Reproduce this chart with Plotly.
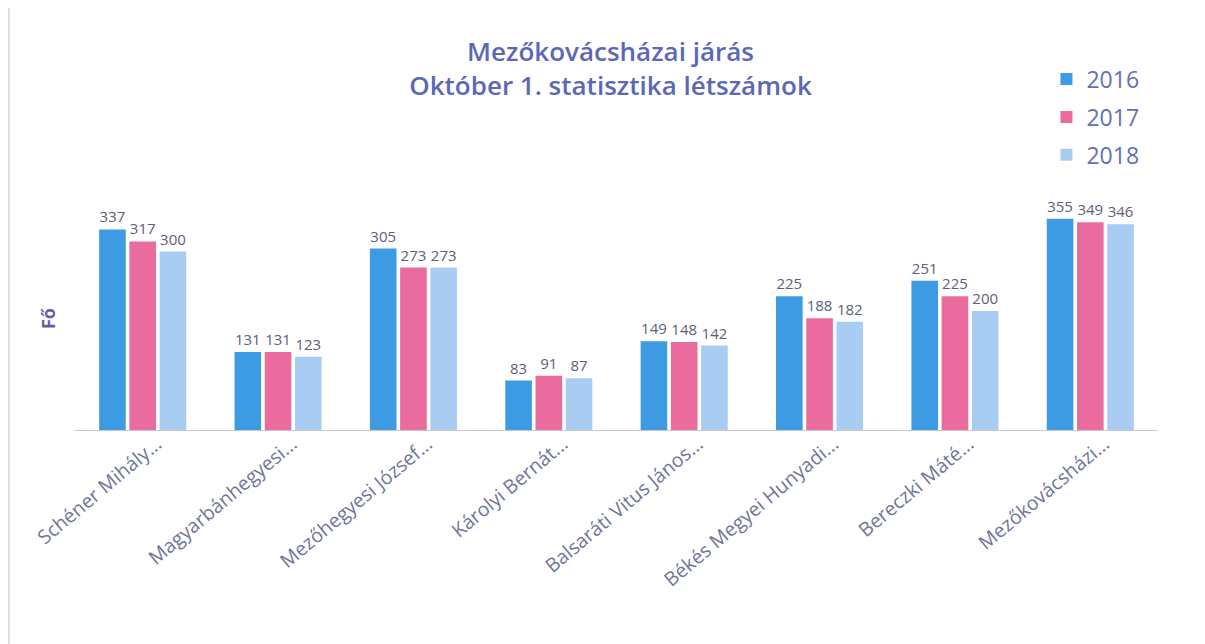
import plotly.graph_objects as go

categories = ["Schéner Mihály...", "Magyarbánhegyesi...", "Mezőhegyesi József...", "Károlyi Bernát...",
              "Balsaráti Vitus János...", "Békés Megyei Hunyadi...", "Bereczki Máté...", "Mezőkovácsházi..."]
years = ["2016", "2017", "2018"]
v2016 = [337, 131, 305, 83, 149, 225, 251, 355]
v2017 = [317, 131, 273, 91, 148, 188, 225, 349]
v2018 = [300, 123, 273, 87, 142, 182, 200, 346]
colors = ["#3d9be3", "#ea6b9e", "#a9cdf2"]

fig = go.Figure()
for i, (name, vals) in enumerate(zip(years, [v2016, v2017, v2018])):
    fig.add_trace(go.Bar(
        x=categories, y=vals, name=name, legendgroup=name,
        marker=dict(color=colors[i], line=dict(width=0)),
        text=[str(v) for v in vals], textposition="outside",
        textfont=dict(family="Open Sans", size=15, color="#5c6078"),
        cliponaxis=False,
    ))

fig.update_layout(
    width=1205, height=644,
    paper_bgcolor="white", plot_bgcolor="white",
    margin=dict(l=67, r=55, t=184, b=222),
    barmode="group", bargap=0.33, bargroupgap=0.12,
    title=dict(text="Mezőkovácsházai járás<br>Október 1. statisztika létszámok",
               x=0.5, xanchor="center", y=0.918, yanchor="top",
               font=dict(family="Open Sans", size=26, color="#5b68b5", weight=600)),
    legend=dict(x=0.897, xanchor="left", y=1.565, yanchor="top",
                font=dict(family="Open Sans", size=23, color="#6470b4"),
                tracegroupgap=5, itemwidth=30, bgcolor="rgba(0,0,0,0)"),
    showlegend=True,
    xaxis=dict(tickangle=-40, tickfont=dict(family="Open Sans", size=19.5, color="#6f7499"),
               ticklabelstandoff=-6, ticklabelshift=14,
               showline=True, linecolor="#c8c8d0", linewidth=1, showgrid=False, ticks=""),
    yaxis=dict(range=[0, 400], visible=False, showgrid=False),
)

fig.add_annotation(text="Fő", xref="paper", yref="paper", x=-0.025, y=0.47,
                   xanchor="center", yanchor="middle",
                   showarrow=False, textangle=-90,
                   font=dict(family="Open Sans", size=18, color="#6a5aa8", weight="bold"))

fig.add_shape(type="line", xref="paper", yref="paper", x0=-0.061, x1=-0.061, y0=-0.95, y1=1.8,
              line=dict(color="#d4d4da", width=1.5))

fig.write_html("out.html")
